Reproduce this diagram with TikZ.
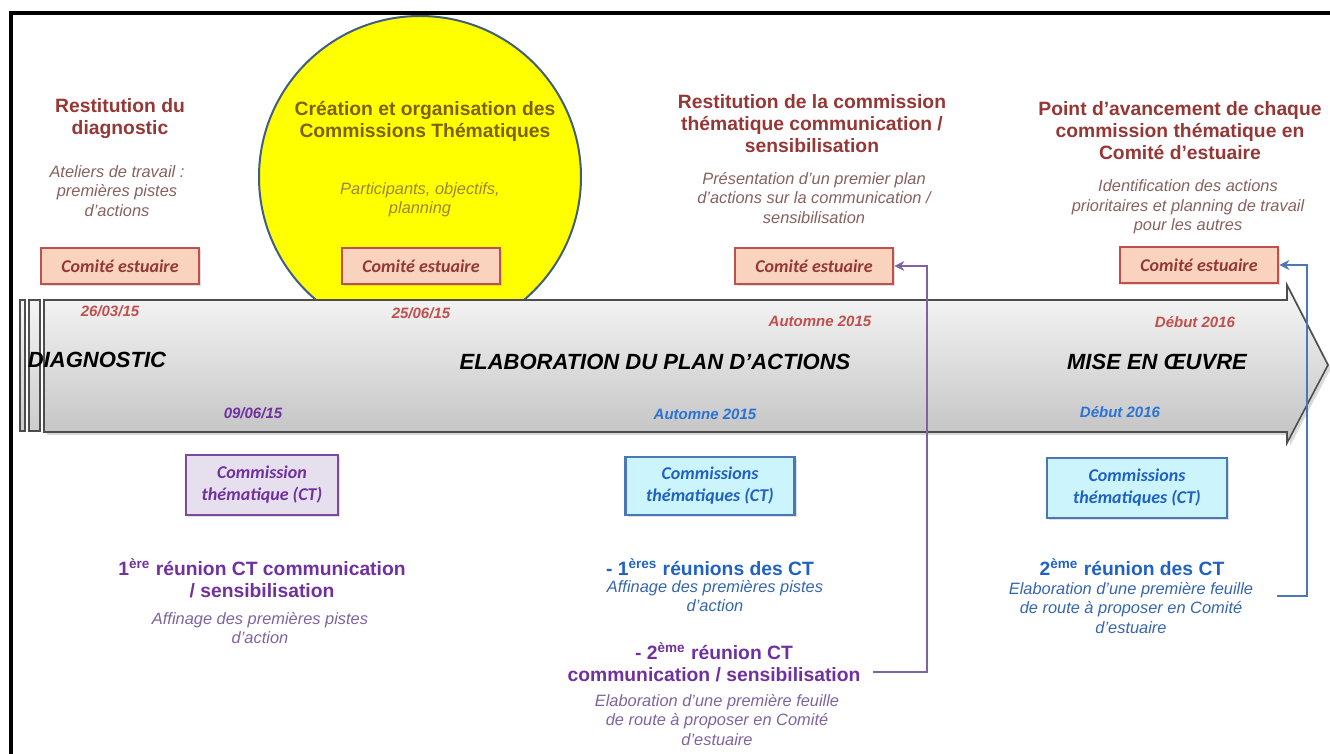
\documentclass[tikz,border=0pt]{standalone}
\usepackage{fontspec}
\setmainfont{Liberation Sans}
\newfontfamily\calibri{Carlito}
\usetikzlibrary{arrows.meta,shadows}
\definecolor{headRed}{HTML}{953735}
\definecolor{noteRed}{HTML}{86615F}
\definecolor{dateRed}{HTML}{C0504D}
\definecolor{headGold}{HTML}{7F6000}
\definecolor{noteGold}{HTML}{9C8632}
\definecolor{comiteFill}{HTML}{FAD3BE}
\definecolor{comiteDraw}{HTML}{C0504D}
\definecolor{ctPurple}{HTML}{7030A0}
\definecolor{notePurple}{HTML}{7F63A0}
\definecolor{ctPurpleFill}{HTML}{E6E0EE}
\definecolor{ctPurpleDraw}{HTML}{7A4A9E}
\definecolor{ctBlue}{HTML}{1F62C4}
\definecolor{noteBlue}{HTML}{3565B0}
\definecolor{dateBlue}{HTML}{2A73D6}
\definecolor{ctBlueFill}{HTML}{CCF4FC}
\definecolor{ctBlueDraw}{HTML}{4A78B5}
\definecolor{circleDraw}{HTML}{3F5E80}
\definecolor{arrowEdge}{HTML}{4D4D4D}
\definecolor{pureYellow}{HTML}{FFFF00}
\begin{document}
\begin{tikzpicture}[x=0.5pt,y=-0.5pt,
    heading/.style={font=\bfseries\fontsize{9.65}{11}\selectfont,align=center,inner sep=1pt},
    note/.style={font=\itshape\fontsize{8.2}{9.7}\selectfont,align=center,inner sep=1pt},
    comite/.style={draw=comiteDraw,fill=comiteFill,line width=1.4pt,minimum width=79pt,minimum height=18pt,
      inner sep=0pt,text=headRed,font=\calibri\bfseries\itshape\fontsize{9}{11}\selectfont,
      drop shadow={shadow xshift=1pt,shadow yshift=-1pt,opacity=.25}},
    ctbox/.style={line width=1.3pt,inner sep=0pt,align=center,font=\calibri\bfseries\itshape\fontsize{9}{11}\selectfont,
      drop shadow={shadow xshift=1pt,shadow yshift=-1pt,opacity=.25}},
    datum/.style={font=\bfseries\itshape\fontsize{7.5}{9}\selectfont,inner sep=1pt},
    stage/.style={font=\bfseries\itshape\fontsize{11}{13}\selectfont,inner sep=1pt},
    link/.style={line width=0.6pt,-{Stealth[length=5pt,width=5pt]}}]
  \useasboundingbox (0,0) rectangle (1330,754);
  \pgfmathsetmacro{\bodyTop}{300}
  \pgfmathsetmacro{\bodyBot}{432}
  \pgfmathsetmacro{\headX}{1287}
  \draw[line width=2pt] (11,754) -- (11,13) -- (1330,13);
  \draw[fill=pureYellow,draw=circleDraw,line width=1pt] (420,177) circle[radius=161];
  \foreach \barX/\barW in {20/5,29/11}
    \draw[draw=arrowEdge,line width=0.6pt,top color=gray!8,bottom color=gray!40] (\barX,\bodyTop) rectangle ++(\barW,131);
  \draw[draw=arrowEdge,line width=0.8pt,top color=gray!6,bottom color=gray!48,
    drop shadow={shadow xshift=1.5pt,shadow yshift=-1.5pt,opacity=.3}]
    (44,\bodyTop) -- (\headX,\bodyTop) -- (\headX,285) -- (1328,365) -- (\headX,443) -- (\headX,\bodyBot) -- (44,\bodyBot) -- cycle;

  \node[heading,text=headRed] (restDiag) at (120,119) {Restitution du\\diagnostic};
  \node[note,text=noteRed] (restDiagNote) at (117,191) {Ateliers de travail :\\premières pistes\\d'actions};
  \node[comite] (comiteA) at (120,266) {Comité estuaire};

  \node[heading,text=headGold] (creaCT) at (425,121) {Création et organisation des\\Commissions Thématiques};
  \node[note,text=noteGold] (creaCTNote) at (420,200) {Participants, objectifs,\\planning};
  \node[comite] (comiteB) at (421,266) {Comité estuaire};

  \node[heading,text=headRed] (restCom) at (812,124) {Restitution de la commission\\thématique communication /\\sensibilisation};
  \node[note,text=noteRed] (restComNote) at (814,198) {Présentation d'un premier plan\\d'actions sur la communication /\\sensibilisation};
  \node[comite] (comiteC) at (814,266) {Comité estuaire};

  \node[heading,text=headRed] (avancement) at (1180,131) {Point d’avancement de chaque\\commission thématique en\\Comité d’estuaire};
  \node[note,text=noteRed] (avancementNote) at (1188,207) {Identification des actions\\prioritaires et planning de travail\\pour les autres};
  \node[comite] (comiteD) at (1199,265) {Comité estuaire};

  \node[datum,text=dateRed] (dateA) at (110,311) {26/03/15};
  \node[datum,text=dateRed] (dateB) at (421,313) {25/06/15};
  \node[datum,text=dateRed] (dateC) at (820,321) {Automne 2015};
  \node[datum,text=dateRed] (dateD) at (1195,322) {Début 2016};
  \node[stage] (diag) at (97,360) {DIAGNOSTIC};
  \node[stage] (elab) at (655,362) {ELABORATION DU PLAN D’ACTIONS};
  \node[stage] (mise) at (1157,362) {MISE EN ŒUVRE};
  \node[datum,text=ctPurple] (dateE) at (253,413) {09/06/15};
  \node[datum,text=dateBlue] (dateF) at (705,414) {Automne 2015};
  \node[datum,text=dateBlue] (dateG) at (1120,412) {Début 2016};

  \node[ctbox,draw=ctPurpleDraw,fill=ctPurpleFill,text=ctPurple,minimum width=76pt,minimum height=30pt] (ctA) at (262,485) {Commission\\thématique (CT)};
  \node[ctbox,draw=ctBlueDraw,fill=ctBlueFill,text=ctBlue,minimum width=84.5pt,minimum height=29pt] (ctB) at (710,486) {Commissions\\thématiques (CT)};
  \node[ctbox,draw=ctBlueDraw,fill=ctBlueFill,text=ctBlue,minimum width=90pt,minimum height=30pt] (ctC) at (1137,488) {Commissions\\thématiques (CT)};

  \node[heading,text=ctPurple] (reunionA) at (262,578) {1\textsuperscript{ère} réunion CT communication\\/ sensibilisation};
  \node[note,text=notePurple] (reunionANote) at (260,628) {Affinage des premières pistes\\d'action};
  \node[heading,text=ctBlue] (reunionB) at (710,567) {- 1\textsuperscript{ères} réunions des CT};
  \node[note,text=noteBlue] (reunionBNote) at (715,596) {Affinage des premières pistes\\d'action};
  \node[heading,text=ctPurple] (reunionC) at (714,662) {- 2\textsuperscript{ème} réunion CT\\communication / sensibilisation};
  \node[note,text=notePurple] (reunionCNote) at (717,720) {Elaboration d'une première feuille\\de route à proposer en Comité\\d'estuaire};
  \node[heading,text=ctBlue] (reunionD) at (1132,567) {2\textsuperscript{ème} réunion des CT};
  \node[note,text=noteBlue] (reunionDNote) at (1131,608) {Elaboration d'une première feuille\\de route à proposer en Comité\\d'estuaire};

  \coordinate (fromC) at (873,672);
  \coordinate (fromD) at (1277,596);
  \draw[link,draw=notePurple] (fromC) -- (927,672) |- (comiteC.east);
  \draw[link,draw=ctBlueDraw] (fromD) -- (1307,596) |- (comiteD.east);
\end{tikzpicture}
\end{document}
